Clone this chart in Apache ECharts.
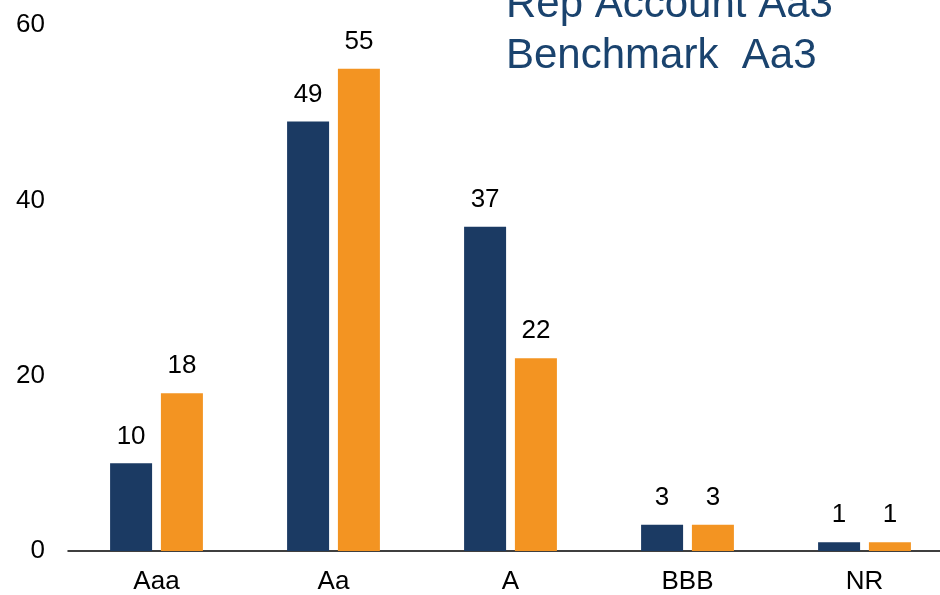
<!DOCTYPE html>
<html>
<head>
<meta charset="utf-8">
<style>
  html, body { margin: 0; padding: 0; background: #ffffff; overflow: hidden; }
  /* the plot runs slightly past the right edge of the window */
  #chart { width: 953px; height: 595px; }
</style>
<script src="https://cdn.jsdelivr.net/npm/echarts@6/dist/echarts.min.js"></script>
</head>
<body>
<div id="chart"></div>
<script>
// Credit quality breakdown (% of holdings)
const categories = ['Aaa', 'Aa', 'A', 'BBB', 'NR'];
const repAccount = [10, 49, 37, 3, 1];
const benchmark = [18, 55, 22, 3, 1];
const yTicks = [0, 20, 40, 60];
const headerLines = ['Rep Account Aa3', 'Benchmark  Aa3'];

const NAVY = '#1B3A63';
const ORANGE = '#F39422';
const FONT = '"Liberation Sans", Arial, sans-serif';

const chart = echarts.init(document.getElementById('chart'), null, { renderer: 'canvas' });

const labelStyle = {
  show: true,
  position: 'top',
  distance: 14,
  color: '#000000',
  fontSize: 26,
  fontFamily: FONT,
  formatter: p => String(p.value)
};

chart.setOption({
  animation: false,
  backgroundColor: '#ffffff',
  grid: { left: 68, right: 0, top: 25, height: 527, containLabel: false },
  xAxis: {
    type: 'category',
    data: categories,
    axisLine: { show: true, lineStyle: { color: '#000000', width: 1.5 } },
    axisTick: { show: false },
    axisLabel: { color: '#000000', fontSize: 26, fontFamily: FONT, margin: 18 }
  },
  yAxis: {
    type: 'value',
    min: yTicks[0],
    max: yTicks[yTicks.length - 1],
    interval: yTicks[1] - yTicks[0],
    axisLine: { show: false },
    axisTick: { show: false },
    splitLine: { show: false },
    axisLabel: { color: '#000000', fontSize: 26, fontFamily: FONT, margin: 23 }
  },
  series: [
    {
      name: 'Rep Account',
      type: 'bar',
      data: repAccount,
      barWidth: 42,
      barGap: '21%',
      itemStyle: { color: NAVY },
      label: labelStyle
    },
    {
      name: 'Benchmark',
      type: 'bar',
      data: benchmark,
      barWidth: 42,
      itemStyle: { color: ORANGE },
      label: labelStyle
    }
  ],
  graphic: headerLines.map((t, i) => ({
    type: 'text',
    left: 506,
    top: -16 + i * 51,
    style: {
      text: t,
      fill: '#1A436E',
      fontSize: 42,
      fontFamily: FONT
    }
  }))
});
</script>
</body>
</html>
